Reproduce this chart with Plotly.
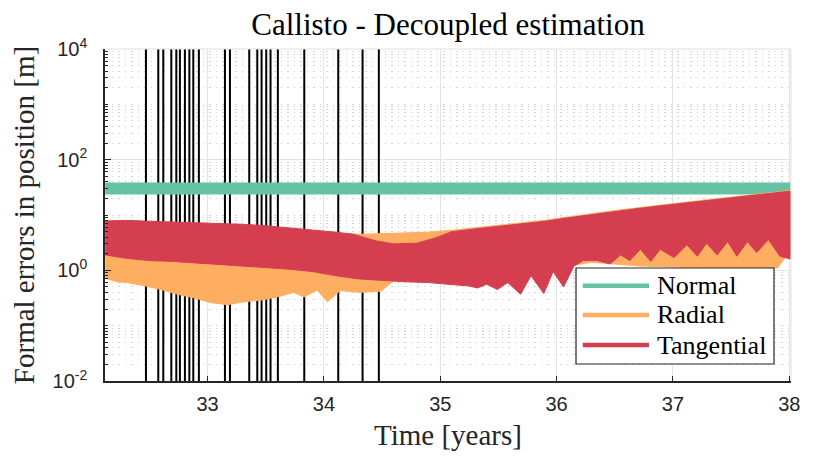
import plotly.graph_objects as go

# flyby epochs (vertical black lines), years
flybys = [32.470, 32.576, 32.619, 32.688, 32.731, 32.762, 32.805, 32.843, 32.877, 32.925,
          33.149, 33.192, 33.358, 33.427, 33.464, 33.504, 33.541, 33.604, 33.831,
          34.123, 34.332, 34.472]

# normal component (nearly constant)
t_normal = [32.12, 33.0, 34.0, 35.0, 36.0, 37.0, 38.01]
normal = [30, 30, 30, 30, 30, 30, 30]

# radial component: upper / lower envelope of the oscillation [m]
t_rad_hi = [32.12, 33.0, 34.0, 34.15, 34.3, 34.5, 34.7, 34.9, 35.1, 35.3, 35.5, 35.7, 35.9,
            36.1, 36.3, 36.5, 36.7, 36.9, 37.1, 37.3, 37.5, 37.7, 37.9, 38.01]
rad_hi = [6.0, 6.0, 4.8, 4.6, 4.5, 4.6, 4.7, 4.9, 5.3, 5.9, 6.5, 7.2, 8.0,
          9.2, 10.6, 12.0, 13.5, 15.2, 17.0, 18.9, 21.0, 23.2, 25.8, 27.8]
t_rad_lo = [32.12, 32.22, 32.31, 32.45, 32.6, 32.74, 32.88, 33.03, 33.17, 33.31, 33.46, 33.6,
            33.74, 33.83, 33.94, 34.03, 34.14, 34.3, 34.49, 34.6, 34.8, 35.0, 35.5, 36.0,
            36.3, 36.5, 36.7, 37.0, 37.3, 37.6, 37.9, 38.01]
rad_lo = [0.72, 0.62, 0.6, 0.53, 0.45, 0.37, 0.32, 0.26, 0.24, 0.27, 0.29, 0.33,
          0.4, 0.33, 0.44, 0.27, 0.43, 0.4, 0.42, 0.65, 0.75, 0.8, 0.9, 1.1,
          1.4, 1.3, 1.2, 1.15, 1.1, 1.1, 1.1, 2.3]

# tangential component: upper / lower envelope [m]
t_tan_hi = [32.12, 32.3, 32.5, 32.7, 32.9, 33.1, 33.3, 33.5, 33.7, 33.9, 34.1, 34.25, 34.45,
            34.6, 34.8, 34.95, 35.1, 35.3, 35.5, 35.7, 35.9, 36.1, 36.3, 36.5, 36.7, 36.9,
            37.1, 37.3, 37.5, 37.7, 37.9, 38.01]
tan_hi = [7.8, 8.0, 7.7, 7.5, 7.3, 7.1, 6.8, 6.4, 5.9, 5.4, 4.9, 4.5, 3.4,
          3.0, 3.1, 3.8, 5.0, 5.6, 6.2, 6.9, 7.7, 8.9, 10.2, 11.6, 13.1, 14.7,
          16.4, 18.3, 20.3, 22.5, 25.0, 27.0]
t_tan_lo = [32.12, 32.3, 32.5, 32.7, 32.9, 33.1, 33.3, 33.5, 33.7, 33.9, 34.1, 34.3, 34.5,
            34.7, 34.9, 35.1, 35.25, 35.32, 35.4, 35.49, 35.58, 35.69, 35.78, 35.89, 35.97,
            36.06, 36.15, 36.23, 36.35, 36.46, 36.55, 36.63, 36.72, 36.81, 36.89, 37.01,
            37.12, 37.21, 37.29, 37.38, 37.47, 37.55, 37.64, 37.72, 37.82, 37.92, 38.01]
tan_lo = [1.9, 1.65, 1.5, 1.45, 1.38, 1.3, 1.22, 1.12, 1.05, 0.95, 0.8, 0.7, 0.66,
          0.62, 0.6, 0.55, 0.52, 0.48, 0.56, 0.45, 0.6, 0.37, 0.8, 0.38, 0.95,
          0.5, 1.2, 1.5, 1.5, 1.3, 1.9, 1.5, 2.4, 1.45, 2.4, 1.7,
          2.9, 1.8, 3.1, 1.9, 3.3, 1.8, 3.3, 2.1, 3.6, 1.8, 1.6]

x_ticks = [33, 34, 35, 36, 37, 38]
y_ticks = [1e-2, 1, 1e2, 1e4]
y_ticktext = ['10<sup>-2</sup>', '10<sup>0</sup>', '10<sup>2</sup>', '10<sup>4</sup>']

series_names = ['Normal', 'Radial', 'Tangential']

GREEN = '#66c2a5'
ORANGE = '#fdae61'
RED = '#d53e4f'
SERIF = 'Liberation Serif'
SANS = 'Liberation Sans'
colors = [GREEN, ORANGE, RED]

fig = go.Figure()

# vertical flyby lines
vx, vy = [], []
for t in flybys:
    vx += [t, t, None]
    vy += [1e-2, 1e4, None]
fig.add_trace(go.Scatter(x=vx, y=vy, mode='lines', line=dict(color='black', width=2),
                         showlegend=False, hoverinfo='skip'))

fig.add_trace(go.Scatter(x=t_normal, y=normal, mode='lines', name='Normal',
                         line=dict(color=GREEN, width=12), showlegend=False))

def band(t_hi, hi, t_lo, lo, color, name):
    return go.Scatter(x=t_hi + t_lo[::-1], y=hi + lo[::-1], mode='lines', fill='toself',
                      fillcolor=color, line=dict(color=color, width=1), name=name,
                      showlegend=False)

fig.add_trace(band(t_rad_hi, rad_hi, t_rad_lo, rad_lo, ORANGE, 'Radial'))
fig.add_trace(band(t_tan_hi, tan_hi, t_tan_lo, tan_lo, RED, 'Tangential'))

minor_y = [k * 10 ** e for e in range(-2, 4) for k in range(2, 11) if k * 10 ** e not in y_ticks]

# the page body adds an 8px offset, so margins are shifted to compensate
fig.update_layout(
    width=830, height=464,
    margin=dict(l=97, r=47, t=41, b=91),
    paper_bgcolor='white', plot_bgcolor='white',
    font=dict(family=SERIF, color='black'),
    title=dict(text='Callisto - Decoupled estimation', x=0.5, xref='paper', xanchor='center',
               y=0.966, yref='container', yanchor='middle',
               font=dict(family=SERIF, size=31, color='black')),
    showlegend=False,
)

fig.update_xaxes(
    range=[32.118, 38.015], tickvals=x_ticks, ticks='inside', ticklen=5, tickcolor='#262626',
    showline=True, linecolor='#262626', linewidth=1.5, mirror=False, automargin=False,
    showgrid=True, gridcolor='#e3e3e3', gridwidth=1, zeroline=False,
    tickfont=dict(family=SANS, size=20, color='#262626'), ticklabelstandoff=4,
    title=dict(text='Time [years]', font=dict(family=SERIF, size=29, color='#262626'), standoff=11),
)
fig.update_yaxes(
    type='log', range=[-2, 4], tickvals=y_ticks, ticktext=y_ticktext, ticks='inside', ticklen=6,
    tickcolor='#262626', showline=True, linecolor='#262626', linewidth=1.5, automargin=False,
    showgrid=True, gridcolor='#e3e3e3', gridwidth=1, zeroline=False,
    tickfont=dict(family=SANS, size=20, color='#262626'), ticklabelstandoff=12,
    minor=dict(tickvals=minor_y, ticks='inside', ticklen=3, tickcolor='#262626',
               showgrid=True, gridcolor='#d4d4d4', griddash='1.5px,5px', gridwidth=1),
    title=dict(text='Formal errors in position [m]', font=dict(family=SERIF, size=29, color='#262626'),
               standoff=11),
)

# light box on top and right
fig.add_shape(type='line', xref='paper', yref='paper', x0=0, x1=1, y0=1, y1=1,
              line=dict(color='#e0e0e0', width=1))
fig.add_shape(type='line', xref='paper', yref='paper', x0=1, x1=1, y0=0, y1=1,
              line=dict(color='#e0e0e0', width=1))

# legend box (drawn by hand to match the sample line length)
fig.add_shape(type='rect', xref='paper', yref='paper', x0=0.6866, x1=0.9752, y0=0.0512, y1=0.3404,
              line=dict(color='#262626', width=1.2), fillcolor='white', layer='above')
leg_y = [0.2870, 0.1988, 0.1084]
for name, c, yy in zip(series_names, colors, leg_y):
    fig.add_shape(type='line', xref='paper', yref='paper', x0=0.6964, x1=0.7930, y0=yy, y1=yy,
                  line=dict(color=c, width=4.5), layer='above')
    fig.add_annotation(text=name, xref='paper', yref='paper', x=0.8017, y=yy, xanchor='left',
                       yanchor='middle', showarrow=False,
                       font=dict(family=SERIF, size=26, color='black'))

fig.write_html('out.html')
